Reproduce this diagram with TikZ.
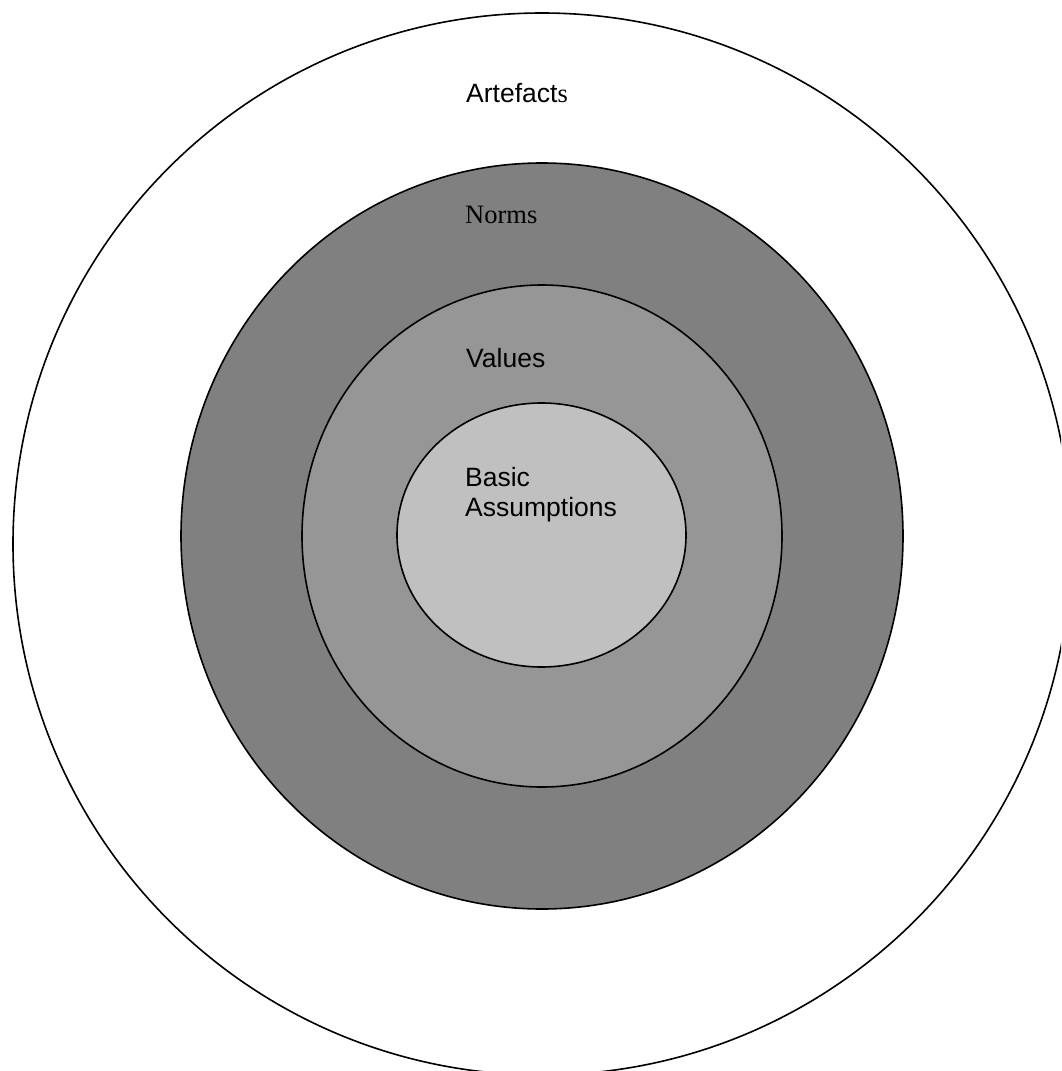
\documentclass[tikz,border=0pt]{standalone}
\usepackage{fontspec}
\setmainfont{Liberation Sans}
\newfontfamily\timesfont{Liberation Serif}
\usepackage{xcolor}
\usepackage{tikz}
\usetikzlibrary{positioning}

\definecolor{normgray}{HTML}{808080}
\definecolor{valuegray}{HTML}{969696}
\definecolor{basicgray}{HTML}{C0C0C0}

\begin{document}
\begin{tikzpicture}[
			x = 1pt, y = -1pt,
			ring/.style = {draw=black, line width=1.6pt},
			label/.style = {anchor=base west, inner sep=0pt, font=\fontsize{26.5}{29.5}\selectfont, align=left}
			]

			\def\cx{542}
			\def\cy{536}

			\useasboundingbox[fill=white] (0,0) rectangle (1061,1071);
			\clip (0,0) rectangle (1061,1071);

			% layers, outside in
			\draw[ring,fill=white] (\cx,544) ellipse [x radius=529, y radius=531];
			\draw[ring,fill=normgray] (\cx,\cy) ellipse [x radius=361, y radius=373];
			\draw[ring,fill=valuegray] (\cx,\cy) ellipse [x radius=240, y radius=251];
			\draw[ring,fill=basicgray] (541.5,535) ellipse [x radius=144.5, y radius=132];

			\node[label] (artefacts) at (466,102) {Artefact{\timesfont s}};
			\node[label,font=\fontsize{26.5}{29.5}\selectfont\timesfont] (norms) at (465,223) {Norms};
			\node[label] (values) at (466,367) {Values};
			\node[label] (basic) at (465,516) {Basic\\Assumptions};

		\end{tikzpicture}
\end{document}
